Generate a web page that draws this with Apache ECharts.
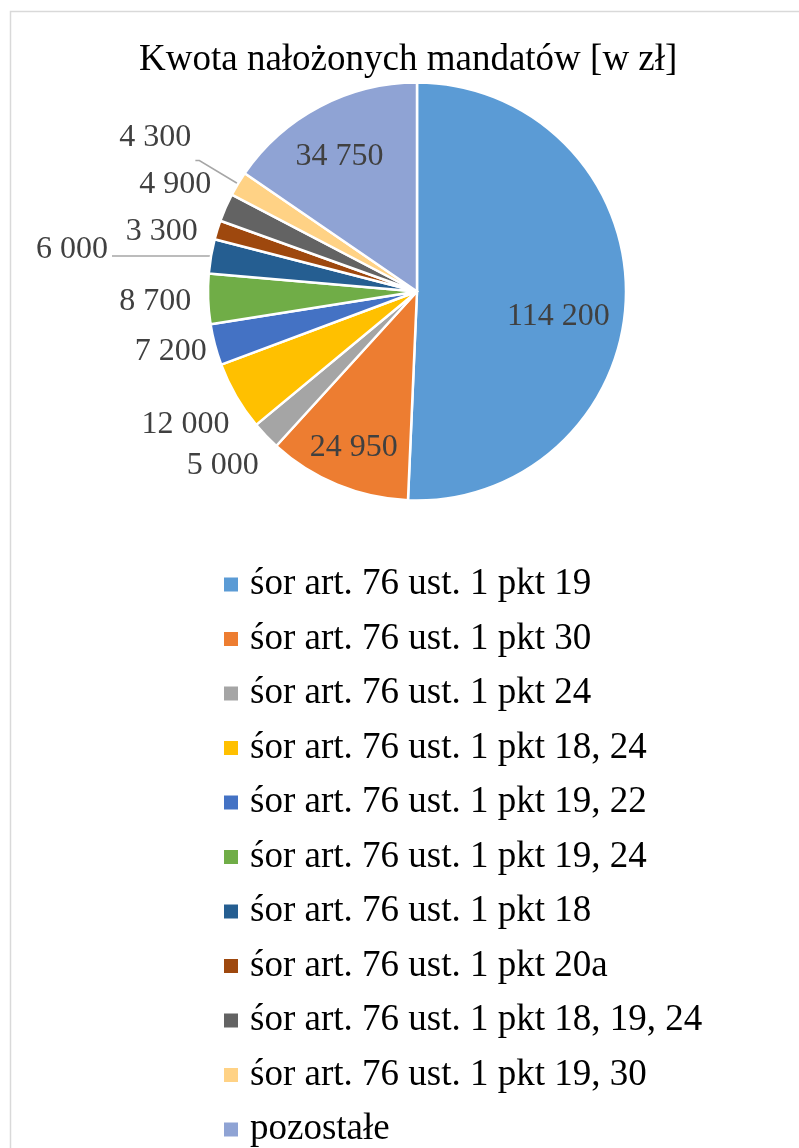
<!DOCTYPE html>
<html>
<head>
<meta charset="utf-8">
<script src="https://cdn.jsdelivr.net/npm/echarts@6/dist/echarts.min.js"></script>
<style>
html,body{margin:0;padding:0;background:#fff;}
#c{width:799px;height:1148px;}
</style>
</head>
<body>
<div id="c"></div>
<script>
const titleText = 'Kwota nałożonych mandatów [w zł]';
const categories = [
  'śor art. 76 ust. 1 pkt 19',
  'śor art. 76 ust. 1 pkt 30',
  'śor art. 76 ust. 1 pkt 24',
  'śor art. 76 ust. 1 pkt 18, 24',
  'śor art. 76 ust. 1 pkt 19, 22',
  'śor art. 76 ust. 1 pkt 19, 24',
  'śor art. 76 ust. 1 pkt 18',
  'śor art. 76 ust. 1 pkt 20a',
  'śor art. 76 ust. 1 pkt 18, 19, 24',
  'śor art. 76 ust. 1 pkt 19, 30',
  'pozostałe'
];
const amounts = [114200, 24950, 5000, 12000, 7200, 8700, 6000, 3300, 4900, 4300, 34750];

const palette = ['#5B9BD5','#ED7D31','#A5A5A5','#FFC000','#4472C4','#70AD47','#255E91','#9E480E','#636363','#FFD285','#8FA3D4'];

// label placement tweaks (text nudges only)
const innerLabelNudge = {0: [-14, 22], 1: [-4, 12], 10: [-5, 3]};
const outerLabelNudge = {2: [-4, -7], 3: [-4, 1], 4: [8, -7], 5: [1, 1], 7: [-4, 18], 8: [-1, -1]};
const leaderCfg = {6: {length: 1, length2: 98, dy: -6}, 9: {length: 45, length2: 4, dy: -23}};

const fmt = v => String(v).replace(/\B(?=(\d{3})+(?!\d))/g, ' ');
const SERIF = '"Liberation Serif", "Times New Roman", serif';
const labelColor = '#404040';

const chart = echarts.init(document.getElementById('c'), null, {renderer: 'canvas'});

const center = [417, 291.5];
const R = 209;

const mainData = categories.map((n, i) => {
  const d = {name: n, value: amounts[i], itemStyle: {color: palette[i]}};
  if (leaderCfg[i]) {
    d.label = {show: true, position: 'outside'};
    d.labelLine = {show: true, length: leaderCfg[i].length, length2: leaderCfg[i].length2};
  } else {
    d.label = {show: false};
    d.labelLine = {show: false};
  }
  return d;
});

const innerData = categories.map((n, i) => ({
  name: n, value: amounts[i],
  label: innerLabelNudge[i] ? {show: true, offset: innerLabelNudge[i]} : {show: false}
}));
const outerData = categories.map((n, i) => ({
  name: n, value: amounts[i],
  label: outerLabelNudge[i] ? {show: true, offset: outerLabelNudge[i]} : {show: false}
}));

const overlayBase = {
  type: 'pie', center: center, startAngle: 90, clockwise: true,
  silent: true, legendHoverLink: false, animation: false, avoidLabelOverlap: false,
  itemStyle: {color: 'rgba(0,0,0,0)', borderWidth: 0},
  labelLine: {show: false},
  emphasis: {disabled: true},
  label: {position: 'inside', formatter: p => fmt(p.value),
          fontFamily: SERIF, fontSize: 32, color: labelColor}
};

chart.setOption({
  animation: false,
  backgroundColor: '#ffffff',
  title: {
    text: titleText, left: 134, top: 37,
    textStyle: {fontFamily: SERIF, fontSize: 37, fontWeight: 'normal', color: '#000'}
  },
  legend: {
    orient: 'vertical', left: 222, top: 566, padding: 0, height: 640,
    icon: 'rect', itemWidth: 16, itemHeight: 16, itemGap: 17.5,
    data: categories.map((n, i) => ({name: n, itemStyle: {color: palette[i]}})),
    textStyle: {fontFamily: SERIF, fontSize: 37, lineHeight: 37, color: '#000', padding: [0,0,0,6]},
    selectedMode: false
  },
  graphic: [{
    type: 'rect', shape: {x: 10.5, y: 11.5, width: 900, height: 1300},
    style: {fill: 'none', stroke: '#d9d9d9', lineWidth: 1.5}, silent: true, z: -1
  }],
  series: [
    {
      type: 'pie', center: center, radius: [0, R], startAngle: 90, clockwise: true,
      avoidLabelOverlap: false, animation: false,
      itemStyle: {borderColor: '#fff', borderWidth: 2.5},
      label: {formatter: p => fmt(p.value), fontFamily: SERIF, fontSize: 32, color: labelColor,
              distanceToLabelLine: 4},
      labelLine: {lineStyle: {color: '#a6a6a6', width: 1.5}},
      labelLayout: p => (leaderCfg[p.dataIndex] ? {dy: leaderCfg[p.dataIndex].dy} : {}),
      emphasis: {disabled: true},
      data: mainData
    },
    Object.assign({}, overlayBase, {radius: [0, 305], data: innerData}),
    Object.assign({}, overlayBase, {radius: [R, 311], data: outerData})
  ]
});
</script>
</body>
</html>
